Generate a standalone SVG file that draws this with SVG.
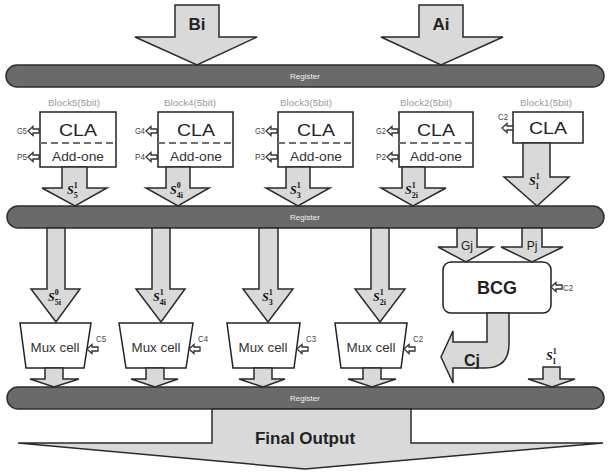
<svg xmlns="http://www.w3.org/2000/svg" width="610" height="473" viewBox="0 0 610 473">
  <style>
    .bar { fill: #6a6a6a; stroke: #2e2e2e; stroke-width: 1.5; }
    .reg { font-family: "Liberation Sans", Arial, sans-serif; font-size: 8px; fill: #f2f2f2; text-anchor: middle; }
    .arr { fill: #d9d9d9; stroke: #2a2a2a; stroke-width: 1.5; stroke-linejoin: miter; }
    .box { fill: #ffffff; stroke: #222222; stroke-width: 1.5; }
    .dash { stroke: #707070; stroke-width: 2; stroke-dasharray: 7 4; }
    .blk { font-family: "Liberation Sans", Arial, sans-serif; font-size: 9px; fill: #9a9a9a; text-anchor: middle; }
    .cla { font-family: "Liberation Sans", Arial, sans-serif; font-size: 17px; fill: #222; text-anchor: middle; }
    .add { font-family: "Liberation Sans", Arial, sans-serif; font-size: 13px; fill: #333; text-anchor: middle; }
    .pin { font-family: "Liberation Sans", Arial, sans-serif; font-size: 9px; fill: #444; }
    .pl { text-anchor: end; }
    .gp { font-family: "Liberation Sans", Arial, sans-serif; font-size: 12px; fill: #222; text-anchor: middle; }
    .mux { font-family: "Liberation Sans", Arial, sans-serif; font-size: 13px; fill: #333; text-anchor: middle; }
    .big { font-family: "Liberation Sans", Arial, sans-serif; font-weight: bold; fill: #222; text-anchor: middle; }
    .s { font-family: "Liberation Serif", "Times New Roman", serif; font-style: italic; font-weight: bold; font-size: 12px; fill: #111; }
    .sup, .sub { font-size: 8px; font-style: normal; }
    .sa { fill: #ffffff; stroke: #333; stroke-width: 1.3; }
  </style>
  <defs>
    <!-- small hollow arrow pointing left, tip at origin -->
    <polygon id="sarrow" class="sa" points="0,0 5,-4.5 5,-2 11,-2 11,2 5,2 5,4.5"/>
  </defs>

  <!-- register bars -->
  <g id="register1">
    <rect class="bar" x="6" y="65" width="598" height="22" rx="11"/>
    <text class="reg" x="305" y="79">Register</text>
  </g>
  <g id="register2">
    <rect class="bar" x="7" y="206" width="597" height="22" rx="11"/>
    <text class="reg" x="305" y="220">Register</text>
  </g>
  <g id="register3">
    <rect class="bar" x="7" y="387" width="597" height="22" rx="11"/>
    <text class="reg" x="305" y="401">Register</text>
  </g>

  <!-- inputs -->
  <g id="input-bi">
    <polygon class="arr" points="175,5 219,5 219,37 257,37 197,65 135,37 175,37"/>
    <text class="big" x="197" y="30" font-size="17">Bi</text>
  </g>
  <g id="input-ai">
    <polygon class="arr" points="419,5 463,5 463,37 503,37 441,65 381,37 419,37"/>
    <text class="big" x="441" y="30" font-size="17">Ai</text>
  </g>

  <!-- adder blocks -->
  <g id="block5">
    <text class="blk" x="74" y="106" textLength="52" lengthAdjust="spacingAndGlyphs">Block5(5bit)</text>
    <rect class="box" x="40" y="112" width="76" height="55"/>
    <line class="dash" x1="40" y1="143" x2="116" y2="143"/>
    <text class="cla" x="78" y="136" textLength="38" lengthAdjust="spacingAndGlyphs">CLA</text>
    <text class="add" x="78" y="161" textLength="52" lengthAdjust="spacingAndGlyphs">Add-one</text>
    <text class="pin pl" x="27" y="134" textLength="10" lengthAdjust="spacingAndGlyphs">G5</text>
    <use href="#sarrow" x="28" y="131"/>
    <text class="pin pl" x="27" y="160" textLength="10" lengthAdjust="spacingAndGlyphs">P5</text>
    <use href="#sarrow" x="28" y="157"/>
  </g>
  <g id="block4">
    <text class="blk" x="190" y="106" textLength="52" lengthAdjust="spacingAndGlyphs">Block4(5bit)</text>
    <rect class="box" x="158" y="112" width="75" height="55"/>
    <line class="dash" x1="158" y1="143" x2="233" y2="143"/>
    <text class="cla" x="196" y="136" textLength="38" lengthAdjust="spacingAndGlyphs">CLA</text>
    <text class="add" x="196" y="161" textLength="52" lengthAdjust="spacingAndGlyphs">Add-one</text>
    <text class="pin pl" x="145" y="134" textLength="10" lengthAdjust="spacingAndGlyphs">G4</text>
    <use href="#sarrow" x="146" y="131"/>
    <text class="pin pl" x="145" y="160" textLength="10" lengthAdjust="spacingAndGlyphs">P4</text>
    <use href="#sarrow" x="146" y="157"/>
  </g>
  <g id="block3">
    <text class="blk" x="306" y="106" textLength="52" lengthAdjust="spacingAndGlyphs">Block3(5bit)</text>
    <rect class="box" x="278" y="112" width="75" height="55"/>
    <line class="dash" x1="278" y1="143" x2="353" y2="143"/>
    <text class="cla" x="316" y="136" textLength="38" lengthAdjust="spacingAndGlyphs">CLA</text>
    <text class="add" x="316" y="161" textLength="52" lengthAdjust="spacingAndGlyphs">Add-one</text>
    <text class="pin pl" x="265" y="134" textLength="10" lengthAdjust="spacingAndGlyphs">G3</text>
    <use href="#sarrow" x="266" y="131"/>
    <text class="pin pl" x="265" y="160" textLength="10" lengthAdjust="spacingAndGlyphs">P3</text>
    <use href="#sarrow" x="266" y="157"/>
  </g>
  <g id="block2">
    <text class="blk" x="426" y="106" textLength="52" lengthAdjust="spacingAndGlyphs">Block2(5bit)</text>
    <rect class="box" x="399" y="112" width="74" height="55"/>
    <line class="dash" x1="399" y1="143" x2="473" y2="143"/>
    <text class="cla" x="436" y="136" textLength="38" lengthAdjust="spacingAndGlyphs">CLA</text>
    <text class="add" x="436" y="161" textLength="52" lengthAdjust="spacingAndGlyphs">Add-one</text>
    <text class="pin pl" x="386" y="134" textLength="10" lengthAdjust="spacingAndGlyphs">G2</text>
    <use href="#sarrow" x="387" y="131"/>
    <text class="pin pl" x="386" y="160" textLength="10" lengthAdjust="spacingAndGlyphs">P2</text>
    <use href="#sarrow" x="387" y="157"/>
  </g>
  <g id="block1">
    <text class="blk" x="546" y="106" textLength="52" lengthAdjust="spacingAndGlyphs">Block1(5bit)</text>
    <rect class="box" x="513" y="112" width="70" height="31"/>
    <text class="cla" x="548" y="134" textLength="38" lengthAdjust="spacingAndGlyphs">CLA</text>
    <text class="pin" x="498" y="120" textLength="10" lengthAdjust="spacingAndGlyphs">C2</text>
    <use href="#sarrow" x="502" y="128"/>
  </g>

  <!-- BCG -->
  <g id="bcg">
    <rect class="box" x="443" y="262" width="108" height="51" rx="8"/>
    <text class="big" x="497" y="294" font-size="18">BCG</text>
    <use href="#sarrow" x="551" y="287"/>
    <text class="pin" x="563" y="291" textLength="10" lengthAdjust="spacingAndGlyphs">C2</text>
  </g>

  <!-- mux cells -->
  <g id="mux5">
    <polygon class="box" points="20,323 91,323 84,368 26,368"/>
    <text class="mux" x="55" y="352" textLength="49" lengthAdjust="spacingAndGlyphs">Mux cell</text>
    <use href="#sarrow" x="87" y="349"/>
    <text class="pin" x="96" y="342" textLength="10" lengthAdjust="spacingAndGlyphs">C5</text>
  </g>
  <g id="mux4">
    <polygon class="box" points="119,323 193,323 186,368 126,368"/>
    <text class="mux" x="156" y="352" textLength="49" lengthAdjust="spacingAndGlyphs">Mux cell</text>
    <use href="#sarrow" x="189" y="349"/>
    <text class="pin" x="198" y="342" textLength="10" lengthAdjust="spacingAndGlyphs">C4</text>
  </g>
  <g id="mux3">
    <polygon class="box" points="227,323 300,323 294,368 233,368"/>
    <text class="mux" x="263" y="352" textLength="49" lengthAdjust="spacingAndGlyphs">Mux cell</text>
    <use href="#sarrow" x="297" y="349"/>
    <text class="pin" x="306" y="342" textLength="10" lengthAdjust="spacingAndGlyphs">C3</text>
  </g>
  <g id="mux2">
    <polygon class="box" points="335,323 407,323 401,368 341,368"/>
    <text class="mux" x="371" y="352" textLength="49" lengthAdjust="spacingAndGlyphs">Mux cell</text>
    <use href="#sarrow" x="404" y="349"/>
    <text class="pin" x="413" y="342" textLength="10" lengthAdjust="spacingAndGlyphs">C2</text>
  </g>

  <!-- output -->
  <g id="final-output">
    <polygon class="arr" points="212,409 411,409 411,443 603,443 305,469 18,443 212,443"/>
    <text class="big" x="305" y="444" font-size="17">Final Output</text>
  </g>

  <!-- connectors -->
  <g id="connectors">
    <!-- block outputs into register 2 -->
    <polygon class="arr" points="62,167 87,167 87,188 107,188 75,206 42,188 62,188"/>
    <polygon class="arr" points="166,167 190,167 190,188 209,188 178,206 146,188 166,188"/>
    <polygon class="arr" points="286,167 310,167 310,188 330,188 298,206 266,188 286,188"/>
    <polygon class="arr" points="402,167 425,167 425,188 446,188 413,206 381,188 402,188"/>
    <polygon class="arr" points="523,143 550,143 550,177 569,177 537,206 504,177 523,177"/>
    <text class="s" x="67" y="194">S<tspan class="sup" dy="-6">1</tspan><tspan class="sub" dx="-4" dy="10">5</tspan></text>
    <text class="s" x="170" y="194">S<tspan class="sup" dy="-6">0</tspan><tspan class="sub" dx="-4" dy="10">4i</tspan></text>
    <text class="s" x="290" y="194">S<tspan class="sup" dy="-6">1</tspan><tspan class="sub" dx="-4" dy="10">3</tspan></text>
    <text class="s" x="405" y="194">S<tspan class="sup" dy="-6">1</tspan><tspan class="sub" dx="-4" dy="10">2i</tspan></text>
    <text class="s" x="529" y="185">S<tspan class="sup" dy="-6">1</tspan><tspan class="sub" dx="-4" dy="10">1</tspan></text>

    <!-- register 2 into mux cells -->
    <polygon class="arr" points="47,228 65,228 65,289 80,289 56,322 31,289 47,289"/>
    <polygon class="arr" points="152,228 170,228 170,289 185,289 161,322 136,289 152,289"/>
    <polygon class="arr" points="259,228 278,228 278,289 293,289 268,322 243,289 259,289"/>
    <polygon class="arr" points="371,228 389,228 389,289 405,289 380,322 355,289 371,289"/>
    <text class="s" x="48" y="301">S<tspan class="sup" dy="-6">0</tspan><tspan class="sub" dx="-4" dy="10">5i</tspan></text>
    <text class="s" x="153" y="301">S<tspan class="sup" dy="-6">1</tspan><tspan class="sub" dx="-4" dy="10">4i</tspan></text>
    <text class="s" x="262" y="301">S<tspan class="sup" dy="-6">1</tspan><tspan class="sub" dx="-4" dy="10">3</tspan></text>
    <text class="s" x="373" y="301">S<tspan class="sup" dy="-6">1</tspan><tspan class="sub" dx="-4" dy="10">2i</tspan></text>

    <!-- register 2 into BCG -->
    <polygon class="arr" points="457,228 477,228 477,247 493,247 466,262 438,247 457,247"/>
    <polygon class="arr" points="522,228 542,228 542,247 563,247 532,262 501,247 522,247"/>
    <text class="gp" x="467" y="250">Gj</text>
    <text class="gp" x="532" y="250">Pj</text>

    <!-- carry out of BCG -->
    <path class="arr" d="M487,313 L487,342 L453,342 L453,331 L441,357 L453,383 L453,368 L485,368 Q509,368 509,344 L509,313 Z"/>
    <text class="big" x="472" y="366" font-size="16">Cj</text>

    <!-- mux cells into register 3 -->
    <polygon class="arr" points="45,368 63,368 63,379 79,379 54,387 30,379 45,379"/>
    <polygon class="arr" points="146,368 164,368 164,379 178,379 155,387 131,379 146,379"/>
    <polygon class="arr" points="254,368 272,368 272,379 285,379 263,387 239,379 254,379"/>
    <polygon class="arr" points="363,368 381,368 381,379 396,379 372,387 348,379 363,379"/>
    <polygon class="arr" points="543,367 560,367 560,379 575,379 552,387 528,379 543,379"/>
    <text class="s" x="546" y="360">S<tspan class="sup" dy="-6">1</tspan><tspan class="sub" dx="-4" dy="10">1</tspan></text>
  </g>
</svg>
